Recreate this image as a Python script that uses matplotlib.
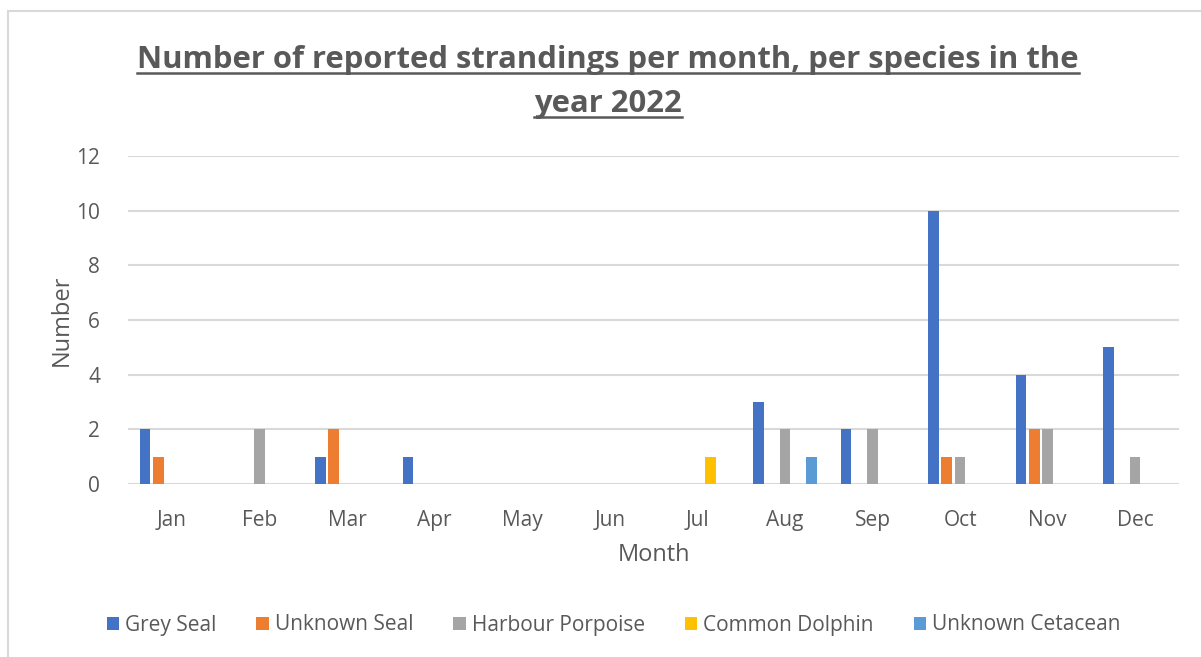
import numpy as np
import matplotlib.pyplot as plt
from matplotlib.lines import Line2D

months = ['Jan', 'Feb', 'Mar', 'Apr', 'May', 'Jun', 'Jul', 'Aug', 'Sep', 'Oct', 'Nov', 'Dec']
grey_seal = [2, 0, 1, 1, 0, 0, 0, 3, 2, 10, 4, 5]
unknown_seal = [1, 0, 2, 0, 0, 0, 0, 0, 0, 1, 2, 0]
harbour_porpoise = [0, 2, 0, 0, 0, 0, 0, 2, 2, 1, 2, 1]
common_dolphin = [0, 0, 0, 0, 0, 0, 1, 0, 0, 0, 0, 0]
unknown_cetacean = [0, 0, 0, 0, 0, 0, 0, 1, 0, 0, 0, 0]

series = [('Grey Seal', grey_seal, '#4472C4'),
          ('Unknown Seal', unknown_seal, '#ED7D31'),
          ('Harbour Porpoise', harbour_porpoise, '#A5A5A5'),
          ('Common Dolphin', common_dolphin, '#FFC000'),
          ('Unknown Cetacean', unknown_cetacean, '#5B9BD5')]

txt = '#595959'
plt.rcParams['font.family'] = ['Open Sans', 'DejaVu Sans']

fig = plt.figure(figsize=(12.01, 6.57), dpi=100)
ax = fig.add_axes([0.1066, 0.2633, 0.8751, 0.4993])

x = np.arange(len(months))
step = 0.152
w = 0.12
for i, (name, vals, col) in enumerate(series):
    ax.bar(x + (i - 2) * step, vals, w, color=col, label=name, zorder=3)

ax.set_xlim(-0.5, 11.5)
ax.set_ylim(0, 12)
ax.set_yticks(range(0, 13, 2))
ax.set_xticks(x)
ax.set_xticklabels(months)
ax.grid(axis='y', color='#d9d9d9', linewidth=1.5, zorder=0)
for s in ax.spines.values():
    s.set_visible(False)
ax.tick_params(length=0, labelsize=15, colors=txt)
ax.tick_params(axis='x', pad=19)
ax.tick_params(axis='y', pad=20)
ax.set_xlabel('Month', fontsize=17, color=txt, labelpad=8)
ax.set_ylabel('Number', fontsize=17, color=txt, labelpad=2)

t1 = fig.text(0.506, 1 - 68 / 657, 'Number of reported strandings per month, per species in the',
              ha='center', va='baseline', fontsize=22.3, fontweight='bold', color=txt)
t2 = fig.text(0.506, 1 - 112 / 657, 'year 2022',
              ha='center', va='baseline', fontsize=22.3, fontweight='bold', color=txt)

fig.legend(loc='center', bbox_to_anchor=(0.511, 1 - 625 / 657), ncol=5, frameon=False,
           fontsize=15, labelcolor=txt, handlelength=0.6, handleheight=0.6,
           handletextpad=0.3, columnspacing=1.9)

# frame of the chart area
fig.add_artist(Line2D([8 / 1201, 8 / 1201], [0, 1 - 11 / 657], color='#d9d9d9', lw=1.5))
fig.add_artist(Line2D([8 / 1201, 1], [1 - 11 / 657, 1 - 11 / 657], color='#d9d9d9', lw=1.5))

# underline the title
fig.canvas.draw()
r = fig.canvas.get_renderer()
for t in (t1, t2):
    bb = t.get_window_extent(r).transformed(fig.transFigure.inverted())
    yb = t.get_position()[1] - 0.008
    fig.add_artist(Line2D([bb.x0, bb.x1], [yb, yb], color=txt, lw=1.8))

fig.savefig('out.png', dpi=100)
